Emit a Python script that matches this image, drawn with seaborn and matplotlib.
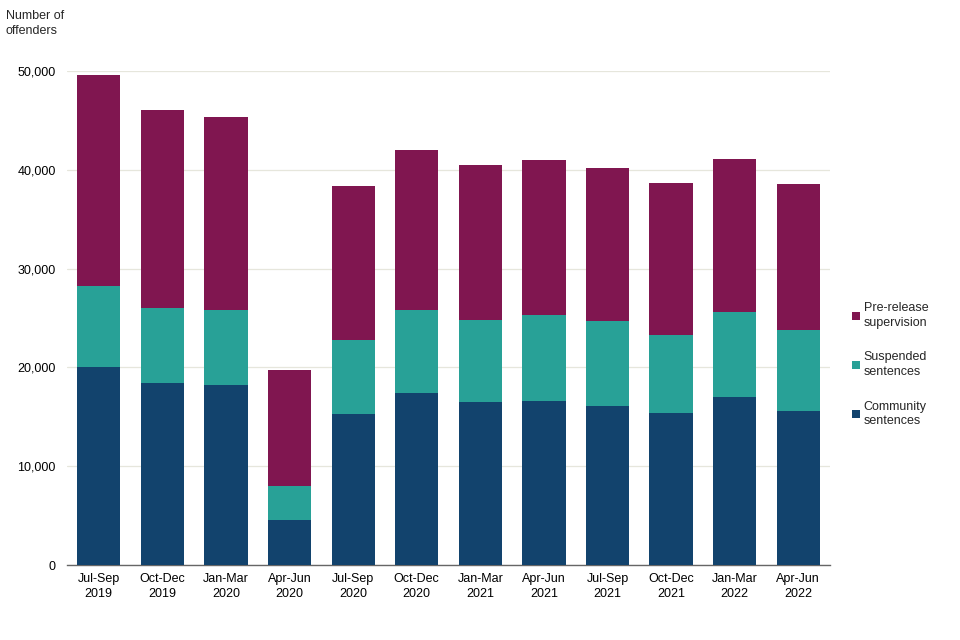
import matplotlib
matplotlib.use("Agg")
import matplotlib.pyplot as plt
from matplotlib.patches import Patch
from matplotlib.ticker import FuncFormatter, FixedLocator
import numpy as np
import pandas as pd
import seaborn as sns

quarters = ["Jul-Sep\n2019", "Oct-Dec\n2019", "Jan-Mar\n2020", "Apr-Jun\n2020",
            "Jul-Sep\n2020", "Oct-Dec\n2020", "Jan-Mar\n2021", "Apr-Jun\n2021",
            "Jul-Sep\n2021", "Oct-Dec\n2021", "Jan-Mar\n2022", "Apr-Jun\n2022"]
community = [20000, 18400, 18200, 4580, 15290, 17410, 16500, 16600, 16090, 15380, 17000, 15590]
suspended = [8240, 7600, 7590, 3430, 7480, 8400, 8300, 8700, 8610, 7900, 8600, 8200]
prerelease = [21360, 20050, 19530, 11720, 15590, 16190, 15690, 15690, 15480, 15380, 15490, 14770]

series_names = ["Community\nsentences", "Suspended\nsentences", "Pre-release\nsupervision"]
colors = ["#12436D", "#28A197", "#801650"]

sns.set_theme(style="white")
plt.rcParams['font.family'] = ['Liberation Sans', 'DejaVu Sans']

df = pd.DataFrame({"quarter": quarters,
                   "community": community,
                   "suspended": suspended,
                   "prerelease": prerelease})
df["c1"] = df["community"]
df["c2"] = df["community"] + df["suspended"]
df["c3"] = df["c2"] + df["prerelease"]

fig = plt.figure(figsize=(9.6, 6.4), dpi=100)
ax = fig.add_axes([0.0698, 0.117, 0.7948, 0.772])

for col, color in zip(["c3", "c2", "c1"], [colors[2], colors[1], colors[0]]):
    sns.barplot(data=df, x="quarter", y=col, color=color, width=0.68,
                saturation=1, ax=ax, zorder=3, errorbar=None, linewidth=0,
                edgecolor="none")

ax.set_ylim(0, 50000)
ax.set_xlim(-0.5, len(quarters) - 0.5)
ax.set_yticks(np.arange(0, 50001, 10000))
ax.yaxis.set_major_formatter(FuncFormatter(lambda v, p: f"{int(v):,}"))
ax.grid(axis="y", color="#E6E6DC", linewidth=0.9, zorder=0)
ax.set_axisbelow(True)
ax.set_xlabel("")
ax.set_ylabel("")

for s in ["top", "right", "left"]:
    ax.spines[s].set_visible(False)
ax.spines["bottom"].set_color("#666666")
ax.spines["bottom"].set_linewidth(1.0)

ax.tick_params(axis="x", which="major", length=0, labelsize=9, pad=6, colors="#000000")
ax.xaxis.set_minor_locator(FixedLocator(np.arange(-0.5, len(quarters), 1.0)))
ax.tick_params(axis="x", which="minor", length=5, width=1, color="#666666", direction="out")
ax.tick_params(axis="y", length=0, labelsize=9, pad=8, colors="#000000")
for lbl in ax.get_xticklabels():
    lbl.set_linespacing(1.3)

fig.text(0.006, 0.942, "Number of\noffenders", fontsize=9, ha="left", va="bottom",
         linespacing=1.35)

handles = [Patch(facecolor=colors[i], edgecolor="none") for i in [2, 1, 0]]
labels = [series_names[i] for i in [2, 1, 0]]
leg = fig.legend(handles, labels, loc="center left", bbox_to_anchor=(0.882, 0.43),
                 frameon=False, fontsize=9, handlelength=0.65, handleheight=0.65,
                 handletextpad=0.3, labelspacing=1.8, borderaxespad=0)
for t in leg.get_texts():
    t.set_linespacing(1.3)

fig.savefig("out.png", dpi=100)
